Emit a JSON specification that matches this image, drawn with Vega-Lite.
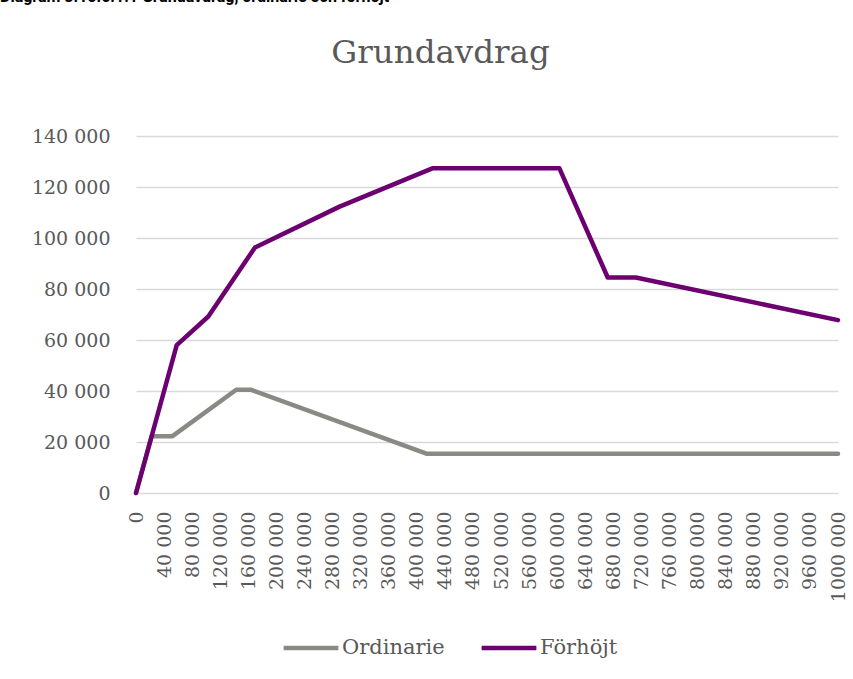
{
  "$schema": "https://vega.github.io/schema/vega-lite/v6.json",
  "autosize": "none",
  "width": 702,
  "height": 357,
  "padding": {"left": 136, "top": 136, "right": 15, "bottom": 186},
  "background": "white",
  "title": {
    "text": "Diagram 3.15.6.1.1 Grundavdrag, ordinarie och förhöjt",
    "font": "Roboto",
    "fontSize": 16,
    "fontWeight": "bold",
    "color": "#000000",
    "anchor": "start",
    "frame": "group",
    "baseline": "alphabetic",
    "offset": 18,
    "dx": -136
  },
  "data": {
    "values": [
      {"inkomst": 0, "avdrag": 0, "serie": "Ordinarie"},
      {"inkomst": 22300, "avdrag": 22300, "serie": "Ordinarie"},
      {"inkomst": 52000, "avdrag": 22300, "serie": "Ordinarie"},
      {"inkomst": 142800, "avdrag": 40500, "serie": "Ordinarie"},
      {"inkomst": 163300, "avdrag": 40500, "serie": "Ordinarie"},
      {"inkomst": 413700, "avdrag": 15400, "serie": "Ordinarie"},
      {"inkomst": 1000000, "avdrag": 15400, "serie": "Ordinarie"},
      {"inkomst": 0, "avdrag": 0, "serie": "Förhöjt"},
      {"inkomst": 58000, "avdrag": 58000, "serie": "Förhöjt"},
      {"inkomst": 103000, "avdrag": 69200, "serie": "Förhöjt"},
      {"inkomst": 169500, "avdrag": 96300, "serie": "Förhöjt"},
      {"inkomst": 290000, "avdrag": 112300, "serie": "Förhöjt"},
      {"inkomst": 423000, "avdrag": 127400, "serie": "Förhöjt"},
      {"inkomst": 603000, "avdrag": 127400, "serie": "Förhöjt"},
      {"inkomst": 672000, "avdrag": 84500, "serie": "Förhöjt"},
      {"inkomst": 712000, "avdrag": 84500, "serie": "Förhöjt"},
      {"inkomst": 1000000, "avdrag": 67800, "serie": "Förhöjt"}
    ]
  },
  "mark": {"type": "line", "strokeWidth": 4.5, "strokeCap": "round", "strokeJoin": "round"},
  "encoding": {
    "x": {
      "field": "inkomst",
      "type": "quantitative",
      "scale": {"domain": [0, 1000000], "nice": false, "zero": true},
      "axis": {
        "values": [0, 40000, 80000, 120000, 160000, 200000, 240000, 280000, 320000, 360000, 400000, 440000, 480000, 520000, 560000, 600000, 640000, 680000, 720000, 760000, 800000, 840000, 880000, 920000, 960000, 1000000],
        "labelExpr": "datum.value == 1000000 ? '1000 000' : replace(format(datum.value, ','), ',', ' ')",
        "labelAngle": 270,
        "labelAlign": "right",
        "labelBaseline": "middle",
        "labelPadding": 18,
        "labelFont": "DejaVu Serif",
        "labelFontSize": 19,
        "labelColor": "#595959",
        "labelOverlap": false,
        "labelFlush": false,
        "ticks": false,
        "domain": false,
        "grid": false,
        "title": null
      }
    },
    "y": {
      "field": "avdrag",
      "type": "quantitative",
      "scale": {"domain": [0, 140000], "nice": false},
      "axis": {
        "values": [0, 20000, 40000, 60000, 80000, 100000, 120000, 140000],
        "labelExpr": "replace(format(datum.value, ','), ',', ' ')",
        "labelPadding": 26,
        "labelFont": "DejaVu Serif",
        "labelFontSize": 19,
        "labelColor": "#595959",
        "ticks": false,
        "domain": false,
        "grid": true,
        "gridColor": "#d9d9d9",
        "gridWidth": 1.3,
        "title": "Grundavdrag",
        "titleAngle": 0,
        "titleAlign": "center",
        "titleBaseline": "alphabetic",
        "titleX": 304,
        "titleY": -74,
        "titleFont": "DejaVu Serif",
        "titleFontSize": 32.5,
        "titleFontWeight": "normal",
        "titleColor": "#595959"
      }
    },
    "color": {
      "field": "serie",
      "type": "nominal",
      "scale": {"domain": ["Ordinarie", "Förhöjt"], "range": ["#898a84", "#6c0070"]},
      "legend": {
        "orient": "none",
        "legendX": 145,
        "legendY": 482,
        "direction": "horizontal",
        "title": null,
        "symbolType": "stroke",
        "symbolSize": 3000,
        "symbolStrokeWidth": 4.5,
        "labelOffset": 1,
        "columnPadding": 27,
        "labelFont": "DejaVu Serif",
        "labelFontSize": 21,
        "labelColor": "#595959"
      }
    }
  },
  "config": {"view": {"stroke": null}}
}
